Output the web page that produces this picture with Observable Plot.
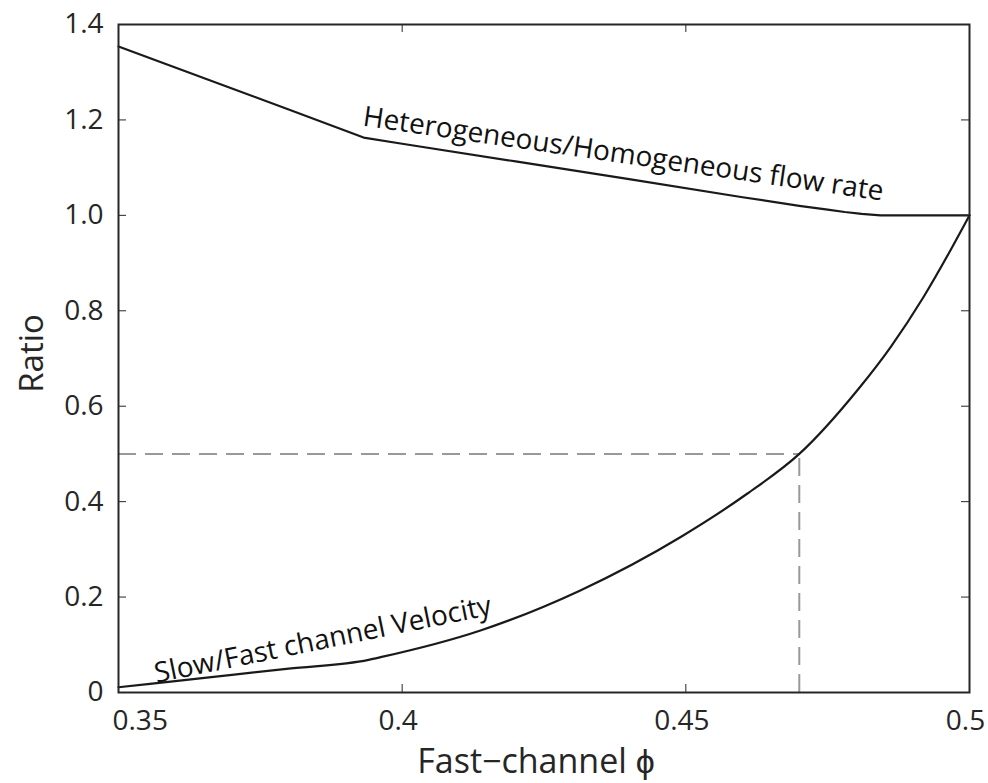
<!DOCTYPE html>
<html>
<head>
<meta charset="utf-8">
<script src="https://cdn.jsdelivr.net/npm/d3@7"></script>
<script src="https://cdn.jsdelivr.net/npm/@observablehq/plot@0.6"></script>
<style>
  html, body { margin: 0; padding: 0; background: #fff; }
  #chart { width: 988px; height: 783px; }
</style>
</head>
<body>
<div id="chart"></div>
<script>
// Heterogeneous/Homogeneous flow-rate ratio vs fast-channel porosity
const phiFlow   = [0.35, 0.36, 0.37, 0.38, 0.3932, 0.40, 0.42, 0.44, 0.46, 0.47, 0.475, 0.478, 0.481, 0.4843, 0.5];
const flowRatio = [1.354, 1.31, 1.266, 1.222, 1.163, 1.150, 1.113, 1.076, 1.038, 1.020, 1.012, 1.007, 1.003, 1.0, 1.0];

// Slow/Fast channel velocity ratio vs fast-channel porosity
const phiVel        = [0.35, 0.36, 0.37, 0.38, 0.3941, 0.3962, 0.4138, 0.4314, 0.4491, 0.4608, 0.47, 0.4802, 0.4861, 0.4919, 0.4967, 0.5];
const velocityRatio = [0.011, 0.024, 0.037, 0.050, 0.0685, 0.074, 0.130, 0.214, 0.326, 0.4165, 0.50, 0.633, 0.724, 0.829, 0.928, 1.0];

// Reference point where the velocity ratio reaches one half
const halfRatio = [0.5];
const phiAtHalf = [0.47];

// Axis ticks
const xTicks = [0.35, 0.4, 0.45, 0.5];
const xTickLabels = ["0.35", "0.4", "0.45", "0.5"];
const yTicks = [0, 0.2, 0.4, 0.6, 0.8, 1.0, 1.2, 1.4];
const yTickLabels = ["0", "0.2", "0.4", "0.6", "0.8", "1.0", "1.2", "1.4"];

const flow = phiFlow.map((x, i) => ({x, y: flowRatio[i]}));
const vel = phiVel.map((x, i) => ({x, y: velocityRatio[i]}));

const ink = "#262626";
const width = 988, height = 783;
const mL = 118, mR = 19, mT = 24, mB = 91;
const innerW = width - mL - mR, innerH = height - mT - mB;
const tickLen = 8;

const xLabel = (d) => xTickLabels[xTicks.indexOf(d)];
const yLabel = (d) => yTickLabels[yTicks.indexOf(d)];

const chart = Plot.plot({
  width, height,
  marginLeft: mL, marginRight: mR, marginTop: mT, marginBottom: mB,
  style: {fontFamily: "'Open Sans', sans-serif", color: ink, background: "#fff", overflow: "visible"},
  x: {domain: [0.35, 0.5]},
  y: {domain: [0, 1.4]},
  marks: [
    // dashed guide lines at the half-ratio point
    Plot.ruleY(halfRatio, {x1: 0.35, x2: phiAtHalf[0], stroke: "#999", strokeWidth: 2, strokeDasharray: "18,9"}),
    Plot.ruleX(phiAtHalf, {y1: 0, y2: halfRatio[0], stroke: "#999", strokeWidth: 2, strokeDasharray: "18,9"}),

    // curves
    Plot.line(flow, {x: "x", y: "y", stroke: "#1a1a1a", strokeWidth: 2.2, curve: "linear"}),
    Plot.line(vel, {x: "x", y: "y", stroke: "#1a1a1a", strokeWidth: 2.2, curve: "monotone-x"}),

    // curve labels, set along each curve
    Plot.text([flow[7]], {x: "x", y: "y", text: () => "Heterogeneous/Homogeneous flow rate",
      rotate: 8.2, lineAnchor: "bottom", textAnchor: "middle", dx: -7, dy: -16, fontSize: 28, fill: "#111"}),
    Plot.text([vel[3]], {x: "x", y: "y", text: () => "Slow/Fast channel Velocity",
      rotate: -11.5, lineAnchor: "bottom", textAnchor: "middle", dx: 36, dy: -20, fontSize: 28, fill: "#111"}),

    // inward ticks on all four sides
    Plot.tickX(xTicks, {x: d => d, insetTop: innerH - tickLen, stroke: ink, strokeWidth: 1}),
    Plot.tickX(xTicks, {x: d => d, insetBottom: innerH - tickLen, stroke: ink, strokeWidth: 1}),
    Plot.tickY(yTicks, {y: d => d, insetRight: innerW - tickLen, stroke: ink, strokeWidth: 1}),
    Plot.tickY(yTicks, {y: d => d, insetLeft: innerW - tickLen, stroke: ink, strokeWidth: 1}),

    // tick labels
    Plot.axisX([xTicks[0]], {tickSize: 0, tickPadding: 18, tickFormat: xLabel, fontSize: 28, textAnchor: "start", dx: -6, label: null}),
    Plot.axisX(xTicks.slice(1), {tickSize: 0, tickPadding: 18, tickFormat: xLabel, fontSize: 28, dx: -4, label: null}),
    Plot.axisY(yTicks, {tickSize: 0, tickPadding: 15, tickFormat: yLabel, fontSize: 28, label: null}),

    // axis titles
    Plot.text(["Fast\u2212channel \u03D5"], {frameAnchor: "bottom", lineAnchor: "bottom", textAnchor: "middle", dy: 80, dx: -8, fontSize: 34, fill: ink}),
    Plot.text(["Ratio"], {frameAnchor: "left", rotate: -90, lineAnchor: "bottom", textAnchor: "middle", dx: -76, dy: -5, fontSize: 33, fill: ink}),

    // box
    Plot.frame({stroke: ink, strokeWidth: 2})
  ]
});

document.getElementById("chart").appendChild(chart);
</script>
</body>
</html>
